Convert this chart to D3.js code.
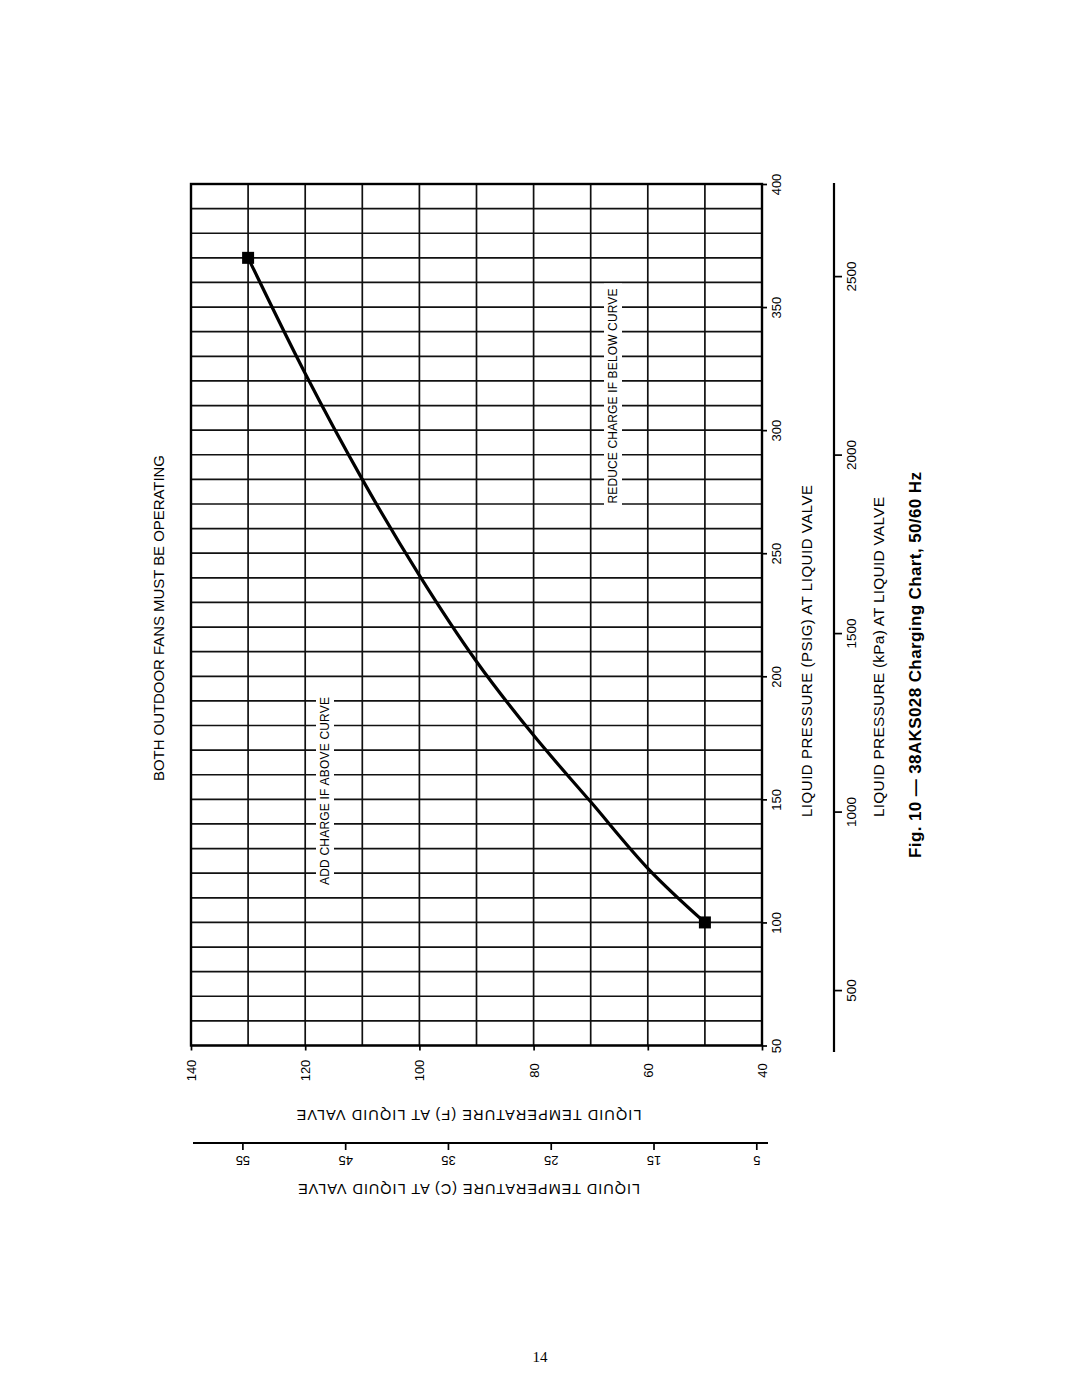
<!DOCTYPE html>
<html>
<head>
<meta charset="utf-8">
<script src="https://cdn.jsdelivr.net/npm/d3@7"></script>
<style>
  html, body { margin: 0; padding: 0; background: #fff; }
  svg { display: block; }
  text { fill: #000; }
</style>
</head>
<body>
<svg id="chart" width="1080" height="1397"></svg>
<script>
// ---- Data ----
const tempF = [50, 60, 70, 80, 90, 100, 110, 120, 130];
const pressurePsig = [100, 122, 149, 176, 206, 241, 280, 323, 370];
const psigTicks = [50, 100, 150, 200, 250, 300, 350, 400];
const tempFTicks = [140, 120, 100, 80, 60, 40];
const tempCTicks = [55, 45, 35, 25, 15, 5];
const kpaTicks = [500, 1000, 1500, 2000, 2500];
const psigGrid = d3.range(50, 401, 10);
const tempFGrid = d3.range(40, 141, 10);

const SANS = "'Liberation Sans', Arial, Helvetica, sans-serif";
const svg = d3.select('#chart').style('font-family', SANS);

// Rotated chart: temperature runs horizontally (140 left -> 40 right), pressure vertically.
const x = d3.scaleLinear().domain([140, 40]).range([191, 762]);
const y = d3.scaleLinear().domain([50, 400]).range([1045.5, 184]);
const toKpa = p => p * 6.895;
const toC = f => (f - 32) * 5 / 9;
const yK = d3.scaleLinear().domain([toKpa(50), toKpa(400)]).range([1045.5, 184]);
const xC = d3.scaleLinear().domain([toC(140), toC(40)]).range([191, 762]);

// Grid
const g = svg.append('g');
g.selectAll('line.h').data(psigGrid).join('line')
  .attr('x1', x(140)).attr('x2', x(40))
  .attr('y1', d => y(d)).attr('y2', d => y(d))
  .attr('stroke', '#111').attr('stroke-width', 1.7);
g.selectAll('line.v').data(tempFGrid).join('line')
  .attr('y1', y(400)).attr('y2', y(50))
  .attr('x1', d => x(d)).attr('x2', d => x(d))
  .attr('stroke', '#111').attr('stroke-width', 1.7);
g.append('rect')
  .attr('x', x(140)).attr('y', y(400))
  .attr('width', x(40) - x(140)).attr('height', y(50) - y(400))
  .attr('fill', 'none').attr('stroke', '#000').attr('stroke-width', 2.4);

// Rotated annotation labels with white backgrounds
function gapLabel(txt, cx, cy, len) {
  svg.append('rect')
    .attr('x', cx - 9).attr('y', cy - len / 2 - 5)
    .attr('width', 18).attr('height', len + 10)
    .attr('fill', '#fff');
  svg.append('text')
    .attr('transform', `translate(${cx},${cy}) rotate(-90)`)
    .attr('text-anchor', 'middle').attr('dominant-baseline', 'central')
    .attr('font-size', 12)
    .attr('textLength', len).attr('lengthAdjust', 'spacing')
    .text(txt);
}
gapLabel('ADD CHARGE IF ABOVE CURVE', 325, 791, 188);
gapLabel('REDUCE CHARGE IF BELOW CURVE', 613, 396, 215);

// Curve (points ordered by increasing screen x)
const pts = tempF.map((t, i) => ({ t, p: pressurePsig[i] })).sort((a, b) => b.t - a.t);
const line = d3.line().x(d => x(d.t)).y(d => y(d.p)).curve(d3.curveMonotoneX);
svg.append('path').datum(pts).attr('d', line)
  .attr('fill', 'none').attr('stroke', '#000').attr('stroke-width', 3.2)
  .attr('stroke-linejoin', 'round');
const ends = [pts[0], pts[pts.length - 1]];
svg.selectAll('rect.mk').data(ends).join('rect')
  .attr('x', d => x(d.t) - 6).attr('y', d => y(d.p) - 6)
  .attr('width', 12).attr('height', 12).attr('fill', '#000');

function styleTicks(sel, transform, size) {
  sel.select('.domain').remove();
  sel.selectAll('.tick line').attr('stroke', '#000').attr('stroke-width', 1.7);
  sel.selectAll('.tick text')
    .attr('x', null).attr('y', null).attr('dy', null)
    .attr('transform', transform)
    .attr('text-anchor', 'middle').attr('dominant-baseline', 'central')
    .attr('font-size', size).attr('font-family', SANS).attr('fill', '#000');
}

// Pressure PSIG axis (right side)
const ax1 = svg.append('g').attr('transform', `translate(${x(40)},0)`)
  .call(d3.axisRight(y).tickValues(psigTicks).tickSize(5).tickFormat(d3.format('d')));
styleTicks(ax1, 'translate(14,0) rotate(-90)', 13);

// Temperature F axis (bottom)
const ax2 = svg.append('g').attr('transform', `translate(0,${y(50)})`)
  .call(d3.axisBottom(x).tickValues(tempFTicks).tickSize(5).tickFormat(d3.format('d')));
styleTicks(ax2, 'translate(0,25) rotate(-90)', 13);

// Celsius axis
svg.append('line').attr('x1', 193).attr('x2', 768).attr('y1', 1143).attr('y2', 1143)
  .attr('stroke', '#000').attr('stroke-width', 2.2);
const ax3 = svg.append('g').attr('transform', 'translate(0,1143)')
  .call(d3.axisBottom(xC).tickValues(tempCTicks).tickSize(7).tickFormat(d3.format('d')));
styleTicks(ax3, 'translate(0,17) rotate(180)', 13);

// kPa axis
svg.append('line').attr('x1', 834).attr('x2', 834).attr('y1', 183).attr('y2', 1052)
  .attr('stroke', '#000').attr('stroke-width', 2.2);
const ax4 = svg.append('g').attr('transform', 'translate(834,0)')
  .call(d3.axisRight(yK).tickValues(kpaTicks).tickSize(8).tickFormat(d3.format('d')));
styleTicks(ax4, 'translate(17,0) rotate(-90)', 13.5);

// Axis titles and headings
function rotText(txt, cx, cy, angle, size, len, weight) {
  svg.append('text')
    .attr('transform', `translate(${cx},${cy}) rotate(${angle})`)
    .attr('text-anchor', 'middle').attr('dominant-baseline', 'central')
    .attr('font-size', size).attr('font-weight', weight || 'normal')
    .attr('textLength', len).attr('lengthAdjust', 'spacing')
    .text(txt);
}
rotText('BOTH OUTDOOR FANS MUST BE OPERATING', 158, 618, -90, 15, 326);
rotText('LIQUID PRESSURE (PSIG) AT LIQUID VALVE', 806, 651, -90, 15, 332);
rotText('LIQUID PRESSURE (kPa) AT LIQUID VALVE', 878, 657, -90, 15.5, 320);
rotText('Fig. 10 \u2014 38AKS028 Charging Chart, 50/60 Hz', 915, 665, -90, 17, 386, 'bold');
rotText('LIQUID TEMPERATURE (F) AT LIQUID VALVE', 469, 1115, 180, 14.5, 345);
rotText('LIQUID TEMPERATURE (C) AT LIQUID VALVE', 469, 1189, 180, 14.5, 342);

// Page number
svg.append('text').attr('x', 540).attr('y', 1362).attr('text-anchor', 'middle')
  .style('font-family', "'Liberation Serif', 'Times New Roman', serif").attr('font-size', 15)
  .text('14');
</script>
</body>
</html>
